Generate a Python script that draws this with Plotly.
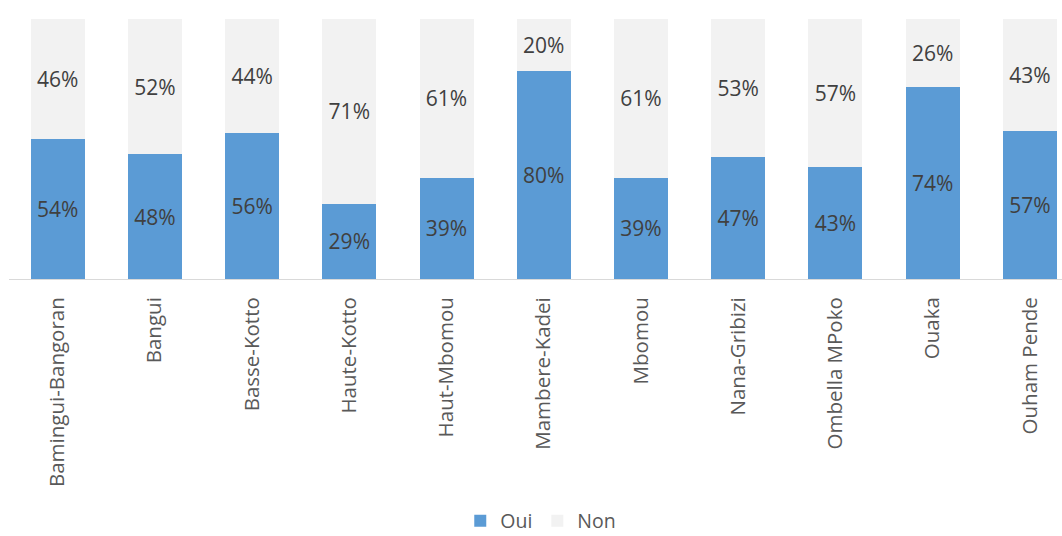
import plotly.graph_objects as go

categories = ["Bamingui-Bangoran", "Bangui", "Basse-Kotto", "Haute-Kotto", "Haut-Mbomou",
              "Mambere-Kadei", "Mbomou", "Nana-Gribizi", "Ombella MPoko", "Ouaka", "Ouham Pende"]
oui = [54, 48, 56, 29, 39, 80, 39, 47, 43, 74, 57]
non = [46, 52, 44, 71, 61, 20, 61, 53, 57, 26, 43]

FONT = "Open Sans"

fig = go.Figure()
fig.add_trace(go.Bar(
    x=categories, y=oui, name="Oui", marker=dict(color="#5B9BD5", line=dict(width=0)),
    text=[f"{v}%" for v in oui], textposition="inside", insidetextanchor="middle",
    textfont=dict(family=FONT, size=21, color="#404040"), textangle=0,
))
fig.add_trace(go.Bar(
    x=categories, y=non, name="Non", marker=dict(color="#F2F2F2", line=dict(width=0)),
    text=[f"{v}%" for v in non], textposition="inside", insidetextanchor="middle",
    textfont=dict(family=FONT, size=21, color="#404040"), textangle=0,
))

fig.update_layout(
    barmode="stack",
    bargap=0.445,
    width=1062, height=536,
    margin=dict(l=9, r=0, t=19, b=257, autoexpand=False),
    paper_bgcolor="white", plot_bgcolor="white",
    font=dict(family=FONT, color="#595959"),
    showlegend=True,
    legend=dict(orientation="h", x=0.505, xanchor="center", y=-0.931, yanchor="middle",
                font=dict(family=FONT, size=19.5, color="#595959"),
                itemwidth=30, traceorder="normal"),
    xaxis=dict(range=[-0.5, 10.33], showgrid=False, showline=True, linecolor="#D9D9D9",
               linewidth=1, ticks="", tickangle=-90, ticklabelstandoff=9, automargin=False,
               tickfont=dict(family=FONT, size=20.5, color="#595959"), fixedrange=True),
    yaxis=dict(range=[0, 100], visible=False, showgrid=False, zeroline=False, automargin=False),
)

fig.write_html("out.html")
